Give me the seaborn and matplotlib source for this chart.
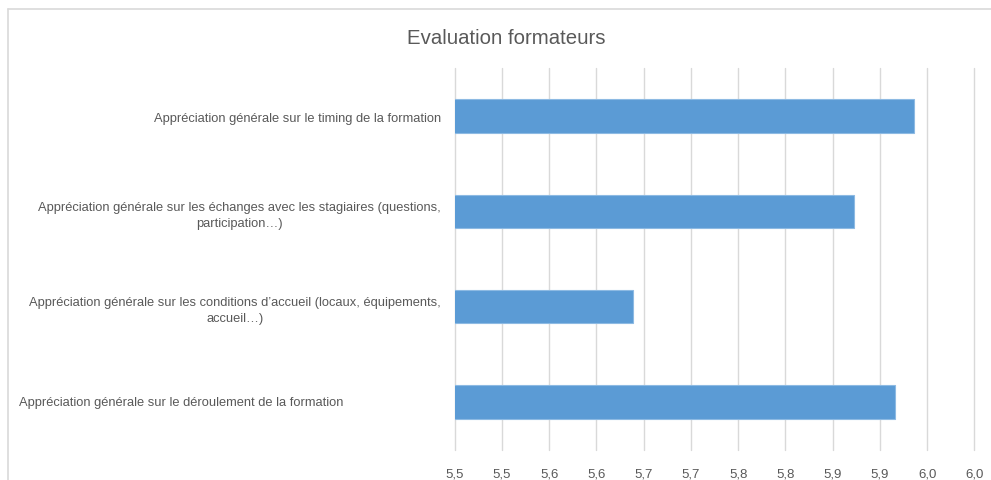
import numpy as np
import pandas as pd
import matplotlib
matplotlib.use("Agg")
import matplotlib.pyplot as plt
import matplotlib.transforms as mtransforms
from matplotlib.lines import Line2D
import seaborn as sns

# ---- data ----
categories = [
    "Appréciation générale sur le timing de la formation",
    "Appréciation générale sur les échanges avec les stagiaires (questions,\nparticipation…)",
    "Appréciation générale sur les conditions d’accueil (locaux, équipements,\naccueil…)",
    "Appréciation générale sur le déroulement de la formation",
]
values = [5.986, 5.923, 5.689, 5.966]
tick_values = [5.50, 5.55, 5.60, 5.65, 5.70, 5.75, 5.80, 5.85, 5.90, 5.95, 6.00, 6.05]
tick_labels = ["5,5", "5,5", "5,6", "5,6", "5,7", "5,7", "5,8", "5,8", "5,9", "5,9", "6,0", "6,0"]
title = "Evaluation formateurs"

TEXT = "#595959"
GRID = "#D9D9D9"
BAR = "#5B9BD5"
LABEL_FS = 9.3

sns.set_theme(style="white")
plt.rcParams["font.family"] = ["Liberation Sans", "DejaVu Sans"]

W, H = 991, 481
fig = plt.figure(figsize=(W / 100, H / 100), dpi=100)
ax = fig.add_axes([454.7 / W, 1 - 450.5 / H, (974.3 - 454.7) / W, (450.5 - 69.4) / H])

df = pd.DataFrame({"cat": categories, "val": values})
sns.barplot(data=df, x="val", y="cat", orient="h", color=BAR, width=0.35,
            edgecolor="#8DBAE3", linewidth=0.8, saturation=1, ax=ax)

ax.set_xlim(5.5, 6.05)
ax.set_ylim(3.5, -0.5)
ax.set_xticks(tick_values)
ax.set_xticklabels(tick_labels)
ax.grid(axis="x", color=GRID, linewidth=1)
for gl in ax.get_xgridlines():
    gl.set_clip_on(False)
ax.set_axisbelow(True)
for s in ax.spines.values():
    s.set_visible(False)
ax.set_xlabel("")
ax.set_ylabel("")
ax.tick_params(axis="x", length=0, pad=13, labelsize=9.5, labelcolor=TEXT)
ax.tick_params(axis="y", length=0, pad=10, labelsize=LABEL_FS, labelcolor=TEXT)

# last label is drawn left-aligned as in the reference
ax.set_yticks(range(len(categories)))
ax.set_yticklabels(list(categories[:-1]) + [""])
for l in ax.get_yticklabels():
    l.set_multialignment("center")
    l.set_linespacing(1.42)
trans = mtransforms.blended_transform_factory(fig.transFigure, ax.transData)
ax.text(18.7 / W, 3, categories[-1], transform=trans, ha="left", va="center",
        fontsize=LABEL_FS, color=TEXT)

# chart frame (top and left edges visible)
fig.add_artist(Line2D([7.5 / W, 1.0], [1 - 10 / H, 1 - 10 / H], color=GRID, linewidth=1.2,
                      transform=fig.transFigure))
fig.add_artist(Line2D([7.5 / W, 7.5 / W], [0, 1 - 10 / H], color=GRID, linewidth=1.2,
                      transform=fig.transFigure))

fig.text(506 / W, 1 - 38 / H, title, ha="center", va="center", fontsize=14.7, color=TEXT)

fig.savefig("out.png", dpi=100, facecolor="white")
